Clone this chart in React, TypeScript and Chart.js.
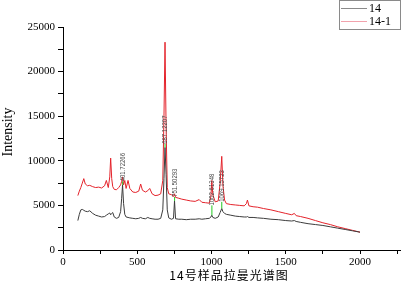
import React, { useEffect, useRef } from "react";
import { Chart, registerables } from "chart.js";

Chart.register(...registerables);

const wavenumbers = [
  100, 110, 120, 130, 140, 150, 165, 180, 200, 220, 240, 260, 280, 292, 305, 315, 321, 328, 335, 345,
  360, 375, 388, 395, 401, 408, 416, 425, 438, 450, 470, 490, 510, 523, 535, 555, 571, 584, 600, 620,
  640, 658, 672, 680, 687, 694, 702, 712, 730, 744, 751, 758, 780, 800, 830, 860, 890, 917, 935, 960,
  985, 996, 1002, 1009, 1025, 1045, 1058, 1069, 1077, 1088, 1100, 1130, 1160, 1190, 1220, 1235, 1242, 1252, 1280, 1310,
  1350, 1400, 1450, 1500, 1540, 1558, 1570, 1600, 1650, 1700, 1750, 1800, 1850, 1900, 1950, 2000,
];

const series14 = [
  3300, 4000, 4500, 4550, 4450, 4350, 4300, 4400, 4100, 3900, 3800, 3700, 3750, 3900, 4050, 4150, 3950, 4100, 4200, 3700,
  3550, 3650, 4300, 5800, 7300, 5200, 4000, 3700, 3650, 3600, 3550, 3500, 3550, 3650, 3550, 3500, 3650, 3550, 3500, 3450,
  3450, 3550, 4500, 8000, 11500, 8500, 4500, 3600, 3450, 3550, 5500, 3500, 3450, 3450, 3400, 3450, 3450, 3500, 3450, 3500,
  3550, 3700, 3900, 3650, 3550, 3700, 4200, 4650, 4300, 4100, 4000, 3900, 3800, 3750, 3700, 3700, 3750, 3650, 3650, 3600,
  3550, 3450, 3400, 3300, 3250, 3300, 3200, 3100, 2950, 2850, 2750, 2600, 2450, 2300, 2150, 2000,
];

const series14_1 = [
  6100, 6600, 7000, 7500, 8000, 7400, 7200, 7250, 7100, 7000, 7050, 6950, 7200, 7800, 7000, 8200, 10300, 8000, 7100, 6800,
  6750, 7000, 7300, 7700, 8200, 7300, 7800, 6900, 7800, 6900, 6500, 6450, 6600, 7400, 6700, 6500, 6650, 6900, 6300, 6100,
  6150, 6300, 7800, 15000, 23300, 14000, 7000, 6300, 6200, 6000, 6300, 5900, 5800, 5700, 5600, 5500, 5450, 5650, 5350, 5300,
  5250, 6000, 7800, 6200, 5400, 5500, 7500, 10500, 7200, 5600, 5200, 5100, 5050, 5000, 4950, 5200, 5600, 4950, 4850, 4800,
  4650, 4500, 4300, 4100, 3950, 4100, 3850, 3750, 3550, 3300, 3050, 2850, 2600, 2400, 2200, 2000,
];

const seriesNames = ["14", "14-1"];
const xTickValues = [0, 250, 500, 750, 1000, 1250, 1500, 1750, 2000, 2250];
const yTickValues = [0, 2500, 5000, 7500, 10000, 12500, 15000, 17500, 20000, 22500, 25000];

const peakWn = [401.72266, 687.12207, 751.50293, 1002.61348, 1069.15723];
const peakTop = [7300, 11500, 5500, 3900, 4650];
const labelBase = [7700, 11900, 5950, 5000, 5400];

const xTitle = "14号样品拉曼光谱图";
const yTitle = "Intensity";

const lineColors = ["#3c3c3c", "#e4232b"];
const legendColors = ["#8a8a8a", "#f2a3ad"];

const overlayPlugin = {
  id: "overlay",
  afterDatasetsDraw(chart: any) {
    const { ctx, scales } = chart;
    const xs = scales.x;
    const ys = scales.y;
    ctx.save();
    for (let i = 0; i < peakWn.length; i++) {
      const px = xs.getPixelForValue(peakWn[i]);
      const p0 = ys.getPixelForValue(peakTop[i]);
      const p1 = ys.getPixelForValue(labelBase[i]);
      ctx.strokeStyle = "#22cc22";
      ctx.lineWidth = 1;
      ctx.beginPath();
      ctx.moveTo(px, p0);
      ctx.lineTo(px, p1);
      ctx.stroke();
      ctx.save();
      ctx.translate(px, p1);
      ctx.rotate(-Math.PI / 2);
      ctx.scale(1, 1.35);
      ctx.fillStyle = "#4a4a4a";
      ctx.font = "6px 'Liberation Sans', Arial, sans-serif";
      ctx.textAlign = "left";
      ctx.textBaseline = "middle";
      ctx.fillText(peakWn[i].toFixed(5), 0, 0);
      ctx.restore();
    }
    ctx.restore();
  },
  afterDraw(chart: any) {
    const { ctx } = chart;
    ctx.save();
    // y title
    ctx.save();
    ctx.translate(8, 132);
    ctx.rotate(-Math.PI / 2);
    ctx.fillStyle = "#000";
    ctx.font = "14px 'Liberation Serif', 'Times New Roman', serif";
    ctx.textAlign = "center";
    ctx.textBaseline = "middle";
    ctx.fillText(yTitle, 0, 0);
    ctx.restore();
    // x title
    ctx.fillStyle = "#000";
    ctx.font = "12px 'Noto Sans CJK SC', sans-serif";
    (ctx as any).letterSpacing = "1px";
    ctx.textAlign = "left";
    ctx.textBaseline = "middle";
    const w = ctx.measureText(xTitle).width;
    ctx.fillText(xTitle, 229 - w / 2, 275);
    (ctx as any).letterSpacing = "0px";
    // legend
    ctx.strokeStyle = "#8a8a8a";
    ctx.lineWidth = 1;
    ctx.strokeRect(339.5, 0.5, 61, 29);
    ctx.font = "12px 'Liberation Serif', 'Times New Roman', serif";
    for (let i = 0; i < seriesNames.length; i++) {
      const y = 8 + i * 13;
      ctx.strokeStyle = legendColors[i];
      ctx.beginPath();
      ctx.moveTo(341, y + 0.5);
      ctx.lineTo(367, y + 0.5);
      ctx.stroke();
      ctx.fillStyle = "#000";
      ctx.fillText(seriesNames[i], 369, y + 1);
    }
    ctx.restore();
  },
};

export default function App() {
  const ref = useRef<HTMLCanvasElement>(null);
  useEffect(() => {
    document.body.style.margin = "0";
    const canvas = ref.current!;
    const tickFont = { family: "'Liberation Serif', 'Times New Roman', serif", size: 11 };
    const chart = new Chart(canvas, {
      type: "line",
      data: {
        datasets: [series14, series14_1].map((vals, i) => ({
          label: seriesNames[i],
          data: wavenumbers.map((x, j) => ({ x, y: vals[j] })),
          borderColor: lineColors[i],
          borderWidth: 1,
          pointRadius: 0,
          tension: 0,
          fill: false,
        })),
      },
      options: {
        responsive: false,
        animation: false,
        layout: { padding: { top: 27, right: 0, left: 0, bottom: 0 } },
        plugins: { legend: { display: false }, tooltip: { enabled: false } },
        scales: {
          x: {
            type: "linear",
            min: 0,
            max: 2276,
            afterBuildTicks: (s: any) => {
              s.ticks = xTickValues.map((v) => ({ value: v }));
            },
            afterFit: (s: any) => {
              s.height = 34;
            },
            ticks: {
              autoSkip: false,
              maxRotation: 0,
              color: "#000",
              font: tickFont,
              padding: 2,
              callback: (v: any) => (Number(v) % 500 === 0 ? String(v) : ""),
            },
            grid: { drawOnChartArea: false, drawTicks: true, tickLength: 4, tickColor: "#000" },
            border: { display: true, color: "#000", width: 1 },
          },
          y: {
            type: "linear",
            min: 0,
            max: 25000,
            afterBuildTicks: (s: any) => {
              s.ticks = yTickValues.map((v) => ({ value: v }));
            },
            afterFit: (s: any) => {
              s.width = 63;
            },
            ticks: {
              autoSkip: false,
              color: "#000",
              font: tickFont,
              padding: 3,
              callback: (v: any) => (Number(v) % 5000 === 0 ? String(v) : ""),
            },
            grid: { drawOnChartArea: false, drawTicks: true, tickLength: 5, tickColor: "#000" },
            border: { display: true, color: "#000", width: 1 },
          },
        },
      },
      plugins: [overlayPlugin],
    });
    return () => chart.destroy();
  }, []);
  return (
    <div style={{ width: 401, height: 284, background: "#fff" }}>
      <canvas ref={ref} width={401} height={284} style={{ display: "block" }} />
    </div>
  );
}
